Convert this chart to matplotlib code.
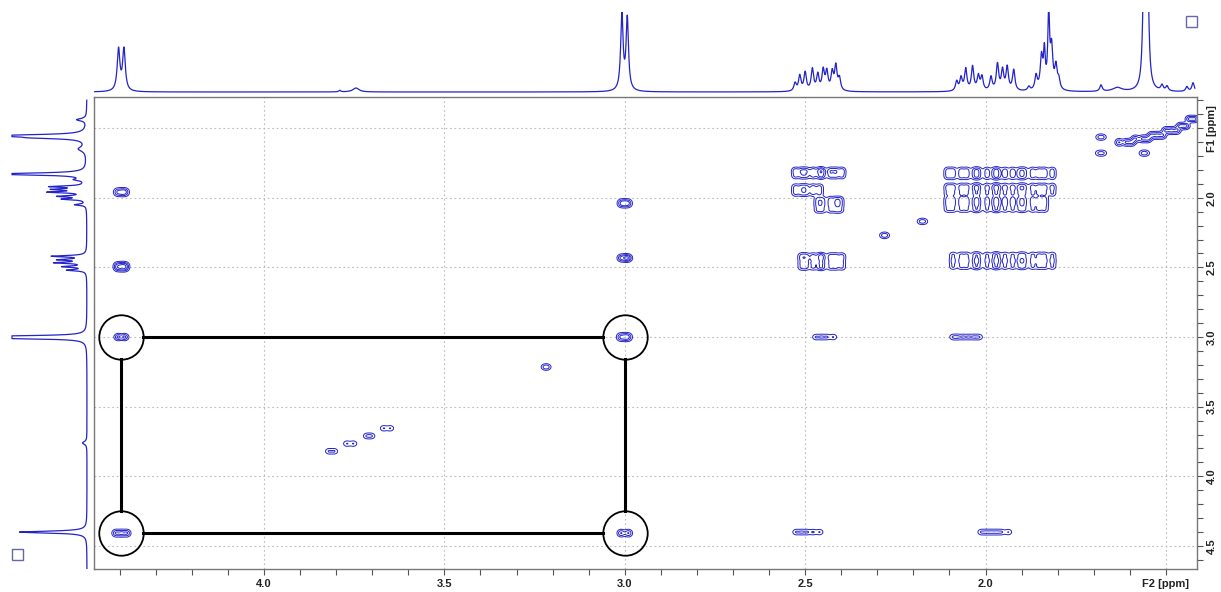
import numpy as np
import matplotlib
matplotlib.use("Agg")
import matplotlib.pyplot as plt
from matplotlib.patches import Rectangle

# ---- 1D projection peak lists (ppm, height as fraction of panel, half width) ----
f2_peak_ppm = [4.403, 4.388, 3.79, 3.745, 3.008, 2.993,
               2.528, 2.515, 2.50, 2.48, 2.465, 2.45, 2.44, 2.425, 2.415, 2.405,
               2.08, 2.068, 2.055, 2.036, 2.02, 2.01, 1.985, 1.967, 1.953, 1.94, 1.922,
               1.88, 1.86, 1.845, 1.837, 1.825, 1.817, 1.805, 1.797,
               1.68, 1.635, 1.561, 1.551, 1.511, 1.497, 1.442, 1.425]
f2_peak_height = [0.52, 0.52, 0.02, 0.05, 0.95, 0.9,
                  0.1, 0.19, 0.23, 0.27, 0.2, 0.25, 0.23, 0.22, 0.3, 0.15,
                  0.12, 0.16, 0.27, 0.3, 0.18, 0.17, 0.17, 0.33, 0.25, 0.29, 0.26,
                  0.05, 0.18, 0.4, 0.45, 0.92, 0.5, 0.28, 0.12,
                  0.08, 0.05, 1.5, 1.5, 0.07, 0.06, 0.06, 0.11]
f2_peak_width = [0.0045, 0.0045, 0.003, 0.01, 0.004, 0.004,
                 0.004, 0.004, 0.004, 0.004, 0.004, 0.004, 0.004, 0.004, 0.004, 0.004,
                 0.004, 0.004, 0.004, 0.004, 0.004, 0.004, 0.004, 0.004, 0.004, 0.004, 0.004,
                 0.004, 0.004, 0.004, 0.003, 0.003, 0.004, 0.004, 0.004,
                 0.004, 0.015, 0.004, 0.004, 0.004, 0.004, 0.004, 0.004]

f1_peak_ppm = [1.44, 1.555, 1.57, 1.65, 1.83, 1.87,
               1.92, 1.94, 1.96, 1.99, 2.01, 2.05,
               2.42, 2.445, 2.467, 2.495, 2.52,
               2.995, 3.008, 3.76, 4.40]
f1_peak_height = [0.13, 1.3, 0.5, 0.1, 1.3, 0.12,
                  0.45, 0.4, 0.47, 0.35, 0.3, 0.15,
                  0.45, 0.35, 0.4, 0.3, 0.25,
                  1.2, 1.2, 0.06, 0.9]
f1_peak_width = [0.01, 0.008, 0.008, 0.02, 0.008, 0.008,
                 0.006, 0.006, 0.006, 0.006, 0.006, 0.006,
                 0.006, 0.006, 0.006, 0.006, 0.006,
                 0.006, 0.006, 0.012, 0.008]

# ---- 2D cross peaks: each entry is a group of F2 lines x F1 lines ----
d_lines = [2.105, 2.09, 2.068, 2.052, 2.03, 2.02, 1.996, 1.975, 1.966, 1.946,
           1.925, 1.905, 1.893, 1.87, 1.852, 1.836, 1.815]
c_lines = [2.527, 2.51, 2.497, 2.478, 2.46, 2.452, 2.43, 2.415, 2.398]
block_f2 = [
    [4.406, 4.394, 4.384], [4.406, 4.394, 4.384], [4.404, 4.386], [4.41, 4.395, 4.38],
    [3.01, 3.0, 2.99], [3.01, 2.998, 2.99], [3.012, 3.0, 2.99], [3.01, 2.99],
    c_lines, c_lines[:5], [2.465, 2.452, 2.43, 2.415, 2.403],
    d_lines, d_lines, d_lines[:-1],
    c_lines[1:], d_lines[1:],
    [2.47, 2.455, 2.44, 2.422], [2.09, 2.077, 2.062, 2.047, 2.032, 2.018],
    [2.525, 2.51, 2.495, 2.478, 2.46], [2.012, 1.998, 1.984, 1.97, 1.956, 1.937],
    [3.82, 3.805], [3.77, 3.752], [3.715, 3.702], [3.668, 3.65], [3.222, 3.214],
    [2.284, 2.276], [2.18, 2.17],
    [1.685, 1.675], [1.686, 1.674], [1.565, 1.555],
    [1.63, 1.61, 1.595], [1.585, 1.565, 1.55], [1.54, 1.525, 1.51], [1.5, 1.485, 1.47],
    [1.46, 1.445], [1.435, 1.42],
]
block_f1 = [
    [1.95, 1.97], [2.48, 2.495, 2.51], [2.995, 3.005], [4.40, 4.415],
    [2.03, 2.05], [2.425, 2.44], [2.99, 3.01], [4.40, 4.415],
    [1.80, 1.82, 1.845], [1.92, 1.945, 1.97],
    [2.01, 2.035, 2.06, 2.09], [1.80, 1.825, 1.85], [1.915, 1.94, 1.97],
    [2.005, 2.03, 2.055, 2.085],
    [2.415, 2.44, 2.47, 2.50], [2.41, 2.44, 2.465, 2.495],
    [3.0], [3.0],
    [4.40], [4.40],
    [3.82], [3.765], [3.71], [3.655], [3.215], [2.27], [2.17],
    [1.565], [1.68], [1.68],
    [1.595, 1.61], [1.57, 1.585], [1.545, 1.56], [1.51, 1.525], [1.48, 1.49], [1.43, 1.44],
]

# highlighted spin system (rectangle corners)
box_f2 = [4.395, 3.0]
box_f1 = [3.0, 4.41]

x_lim = (4.471, 1.414)
y_lim = (4.665, 1.277)
blue = "#2323c8"

fig = plt.figure(figsize=(12.21, 5.92), dpi=100)
W, H = 1221.0, 592.0
ax = fig.add_axes([94 / W, 1 - 569 / H, 1103 / W, 472 / H])
ax_top = fig.add_axes([94 / W, 1 - 94 / H, 1103 / W, 82 / H])
ax_left = fig.add_axes([5 / W, 1 - 569 / H, 85 / W, 472 / H])


def lorentz(x, pos, hgt, wid):
    s = np.zeros_like(x)
    for p, h, g in zip(pos, hgt, wid):
        s += h / (1 + ((x - p) / g) ** 2)
    return s


# top projection
xs = np.linspace(x_lim[0] - 0.002, 1.42, 4000)
ax_top.plot(xs, lorentz(xs, f2_peak_ppm, f2_peak_height, f2_peak_width), color=blue, lw=0.9)
ax_top.set_xlim(x_lim)
ax_top.set_ylim(-0.025, 1.0)
ax_top.axis("off")

# left projection
ys = np.linspace(1.30, 4.665, 4000)
ax_left.plot(np.minimum(lorentz(ys, f1_peak_ppm, f1_peak_height, f1_peak_width), 1.0), ys,
             color=blue, lw=0.9)
ax_left.set_ylim(y_lim)
ax_left.set_xlim(1.093, -0.04)
ax_left.axis("off")

# 2D contour map
gx = np.linspace(x_lim[1], x_lim[0], 1800)
gy = np.linspace(y_lim[1], y_lim[0], 900)
Z = np.zeros((gy.size, gx.size))
sx, sy = 0.0068, 0.014
for f2s, f1s in zip(block_f2, block_f1):
    px = np.exp(-(gx[None, :] - np.array(f2s)[:, None]) ** 2 / (2 * sx ** 2)).sum(0)
    py = np.exp(-(gy[None, :] - np.array(f1s)[:, None]) ** 2 / (2 * sy ** 2)).sum(0)
    Z += np.outer(py, px)
ax.contour(gx, gy, Z, levels=[0.4, 1.0, 1.7, 2.6], colors=blue, linewidths=0.7)

# spin system box and circles
rx, ry = 22 / 360.8, 22 / 139.3
ax.plot([box_f2[0] - rx, box_f2[1] + rx], [box_f1[0]] * 2, color="black", lw=2.2)
ax.plot([box_f2[0] - rx, box_f2[1] + rx], [box_f1[1]] * 2, color="black", lw=2.2)
ax.plot([box_f2[0]] * 2, [box_f1[0] + ry, box_f1[1] - ry], color="black", lw=2.2)
ax.plot([box_f2[1]] * 2, [box_f1[0] + ry, box_f1[1] - ry], color="black", lw=2.2)
for cx in box_f2:
    for cy in box_f1:
        ax.plot(cx, cy, marker="o", ms=32, mfc="none", mec="black", mew=1.3)

ax.set_xlim(x_lim)
ax.set_ylim(y_lim)
ax.set_xticks([4.0, 3.5, 3.0, 2.5, 2.0, 1.5], ["4.0", "3.5", "3.0", "2.5", "2.0", "F2 [ppm]"])
ax.set_xticks(np.arange(1.5, 4.45, 0.1), minor=True)
ax.yaxis.tick_right()
ax.set_yticks([1.5, 2.0, 2.5, 3.0, 3.5, 4.0, 4.5],
              ["F1 [ppm]", "2.0", "2.5", "3.0", "3.5", "4.0", "4.5"])
ax.set_yticks(np.arange(1.3, 4.65, 0.1), minor=True)
for lab in ax.get_yticklabels():
    lab.set_rotation(90)
    lab.set_va("center")
ax.tick_params(which="both", direction="out", length=4, width=0.8, color="#555555",
               labelsize=8, pad=3)
for lab in ax.get_xticklabels() + ax.get_yticklabels():
    lab.set_fontweight("bold")
    lab.set_fontfamily("Liberation Sans")
    lab.set_color("#222222")
ax.grid(True, which="major", linestyle=(0, (1.5, 2.5)), color="#bbbbbb", lw=0.8)
for sp in ax.spines.values():
    sp.set_color("#777777")
    sp.set_linewidth(1.0)

# small corner boxes
fig.add_artist(Rectangle((1186 / W, 1 - 27 / H), 11 / W, 11 / H, transform=fig.transFigure,
                         fill=False, ec="#6666aa", lw=1))
fig.add_artist(Rectangle((12 / W, 1 - 560 / H), 11 / W, 11 / H, transform=fig.transFigure,
                         fill=False, ec="#6666aa", lw=1))

fig.savefig("out.png", dpi=100)
